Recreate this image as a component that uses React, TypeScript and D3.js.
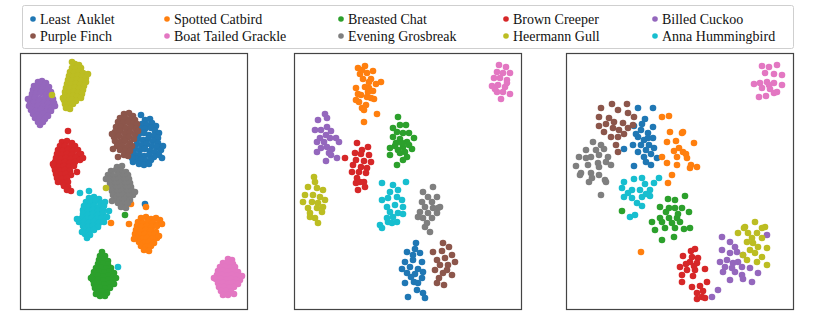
import React from 'react';
import * as d3 from 'd3';

const W = 814;
const H = 319;

// bird classes, legend order (row-major, 5 columns)
const species = [
  'Least  Auklet', 'Spotted Catbird', 'Breasted Chat', 'Brown Creeper', 'Billed Cuckoo',
  'Purple Finch', 'Boat Tailed Grackle', 'Evening Grosbreak', 'Heermann Gull', 'Anna Hummingbird',
];
const colors = [
  '#1f77b4', '#ff7f0e', '#2ca02c', '#d62728', '#9467bd',
  '#8c564b', '#e377c2', '#7f7f7f', '#bcbd22', '#17becf',
];

type Pt = [number, number];

// ---- panel 1 embedding
const leftAuklet: Pt[] = [[121,61],[125,66],[130,65],[122,70],[127,71],[132,69],[136,72],[120,75],[125,75],[131,74],[135,77],[139,79],[119,80],[124,79],[129,81],[134,82],[138,84],[118,85],[123,86],[128,85],[133,87],[138,89],[117,90],[122,91],[127,90],[132,92],[137,93],[141,96],[115,95],[120,96],[125,95],[130,97],[135,98],[139,101],[114,100],[119,101],[124,102],[129,101],[134,103],[116,105],[121,106],[126,107],[131,106],[119,110],[124,111],[129,110],[113,108],[125,150],[143,92],[142,104],[112,104]];
const leftCatbird: Pt[] = [[121,164],[126,163],[131,165],[136,164],[140,166],[118,168],[123,169],[128,168],[133,169],[138,170],[117,172],[122,173],[127,172],[132,173],[137,172],[116,176],[121,177],[126,176],[131,177],[136,178],[115,180],[120,181],[125,180],[130,181],[135,180],[117,184],[122,185],[127,184],[132,185],[137,184],[119,188],[124,189],[129,188],[134,189],[121,192],[126,193],[131,192],[124,196],[129,197],[91,169],[111,150],[126,153],[109,170],[114,185],[142,170],[139,182]];
const leftChat: Pt[] = [[82,198],[80,202],[85,202],[79,206],[84,206],[88,207],[78,210],[83,210],[88,211],[76,214],[81,214],[86,215],[91,214],[74,218],[79,218],[84,219],[89,218],[94,219],[73,222],[78,222],[83,223],[88,222],[93,223],[73,226],[78,226],[83,227],[88,226],[93,227],[74,230],[79,230],[84,231],[89,230],[94,230],[75,234],[80,234],[85,235],[90,234],[77,238],[82,238],[87,239],[80,242],[85,242],[105,161],[71,224],[96,224],[76,240]];
const leftCreeper: Pt[] = [[48,77],[42,88],[47,87],[52,89],[40,92],[45,92],[50,93],[55,92],[38,96],[43,97],[48,96],[53,97],[58,96],[37,100],[42,101],[47,100],[52,101],[57,102],[61,100],[36,104],[41,105],[46,104],[51,105],[56,104],[60,106],[35,108],[40,109],[45,108],[50,109],[55,108],[34,112],[39,113],[44,112],[49,113],[54,112],[35,116],[40,117],[45,116],[50,117],[36,120],[41,121],[46,120],[51,121],[37,124],[42,125],[47,124],[38,128],[43,129],[48,128],[44,132],[48,133],[47,136],[51,137],[33,110],[63,104],[57,118]];
const leftCuckoo: Pt[] = [[18,28],[22,27],[26,29],[14,32],[19,31],[24,32],[29,33],[13,36],[17,35],[22,36],[27,37],[31,38],[12,40],[16,40],[21,39],[26,41],[30,42],[11,44],[15,44],[20,45],[25,44],[29,46],[33,45],[10,48],[14,49],[19,48],[24,49],[28,50],[34,49],[9,52],[13,53],[18,52],[23,53],[28,54],[32,53],[11,56],[16,57],[21,56],[26,58],[31,57],[13,60],[18,61],[23,60],[28,62],[15,64],[20,64],[25,65],[18,68],[23,68],[8,45],[35,52],[20,71]];
const leftFinch: Pt[] = [[104,60],[109,59],[113,62],[100,64],[105,64],[110,65],[115,66],[98,68],[103,69],[108,68],[113,70],[117,70],[96,73],[101,73],[106,74],[111,73],[116,75],[95,78],[100,77],[105,79],[110,78],[115,80],[94,83],[99,82],[104,84],[109,83],[114,85],[95,87],[100,88],[105,87],[110,89],[97,92],[102,92],[107,93],[112,92],[100,96],[105,97],[110,97],[104,101],[108,102],[93,95],[98,103],[105,153],[92,80],[118,77]];
const leftGrackle: Pt[] = [[208,205],[212,206],[203,209],[208,209],[213,210],[200,213],[205,213],[210,214],[215,213],[198,217],[203,217],[208,218],[213,217],[218,218],[197,221],[202,221],[207,222],[212,221],[217,222],[196,225],[201,225],[206,226],[211,225],[216,226],[220,226],[198,229],[203,229],[208,230],[213,229],[218,230],[199,233],[204,233],[209,234],[214,233],[201,237],[206,237],[211,238],[203,241],[208,241],[194,224],[222,222],[214,240]];
const leftGrosbreak: Pt[] = [[97,113],[102,112],[91,117],[96,116],[101,117],[106,118],[88,121],[93,122],[98,121],[103,122],[108,121],[89,125],[94,126],[99,125],[104,126],[109,125],[90,129],[95,130],[100,129],[105,130],[110,129],[91,133],[96,134],[101,133],[106,134],[111,133],[92,137],[97,138],[102,137],[107,138],[112,137],[93,141],[98,142],[103,141],[108,142],[113,141],[95,145],[100,146],[105,145],[110,146],[98,149],[103,150],[108,149],[101,153],[106,154],[86,125],[115,138],[92,147]];
const leftGull: Pt[] = [[55,10],[59,11],[52,14],[56,15],[61,14],[50,18],[54,19],[59,18],[63,19],[49,22],[53,23],[58,22],[62,23],[66,24],[48,26],[52,27],[57,26],[61,27],[66,28],[47,30],[51,31],[56,30],[60,31],[64,32],[46,34],[50,35],[55,34],[59,35],[63,36],[45,38],[49,39],[54,38],[58,39],[62,40],[45,42],[49,43],[53,42],[57,43],[61,44],[44,46],[48,47],[52,46],[56,47],[45,50],[49,51],[53,50],[46,54],[50,55],[32,41],[86,134],[68,20],[43,44],[52,8]];
const leftHummingbird: Pt[] = [[60,139],[69,137],[69,144],[74,143],[79,145],[66,148],[71,148],[76,147],[81,149],[85,148],[64,152],[69,153],[74,152],[79,153],[84,152],[63,156],[68,157],[73,156],[78,157],[83,156],[63,160],[68,161],[73,160],[78,161],[83,160],[62,164],[67,165],[72,164],[77,165],[82,164],[87,163],[59,168],[64,168],[69,169],[74,168],[79,169],[84,168],[63,172],[68,173],[73,172],[78,173],[64,176],[69,177],[74,176],[65,180],[70,181],[67,184],[98,213],[57,165],[89,157],[62,178]];

// ---- panel 2 embedding
const midAuklet: Pt[] = [[122,189],[121,195],[113,198],[119,201],[126,199],[111,208],[119,206],[128,208],[108,215],[116,213],[124,215],[113,219],[121,220],[129,218],[111,229],[120,228],[128,224],[123,236],[129,239],[114,243],[131,244],[117,223],[124,229]];
const midCatbird: Pt[] = [[64,14],[71,12],[79,17],[66,20],[73,19],[69,25],[77,25],[87,28],[82,30],[62,34],[71,33],[75,34],[79,37],[67,41],[73,43],[65,48],[77,44],[68,54],[72,51],[70,56],[83,60],[70,68],[68,16],[75,28],[64,40],[80,45],[62,46],[74,38]];
const midChat: Pt[] = [[104,63],[106,71],[112,71],[99,74],[103,78],[109,79],[115,79],[120,84],[99,83],[106,85],[113,88],[102,89],[109,93],[118,95],[96,94],[104,96],[111,98],[96,101],[106,99],[113,103],[109,106],[103,111],[108,89],[101,92],[115,91]];
const midCreeper: Pt[] = [[63,89],[74,93],[68,96],[61,99],[67,100],[75,101],[51,104],[62,106],[70,107],[77,108],[59,111],[67,113],[73,114],[58,118],[65,118],[72,119],[63,124],[70,128],[62,129],[71,133],[64,136],[66,128]];
const midCuckoo: Pt[] = [[31,60],[33,64],[24,66],[33,73],[21,76],[27,76],[37,77],[32,81],[26,84],[36,84],[42,84],[23,88],[30,88],[45,88],[33,93],[27,94],[38,95],[23,98],[35,99],[43,104],[32,107],[37,101]];
const midFinch: Pt[] = [[149,189],[155,193],[139,198],[148,197],[158,201],[143,206],[151,204],[161,208],[146,211],[154,211],[141,216],[149,219],[158,221],[143,229],[150,231],[145,224],[153,216]];
const midGrackle: Pt[] = [[205,11],[212,13],[203,18],[209,19],[216,19],[200,24],[206,24],[213,26],[198,32],[204,31],[211,33],[203,38],[209,38],[216,40],[207,45],[201,35],[213,29]];
const midGrosbreak: Pt[] = [[129,138],[139,133],[134,143],[143,143],[128,148],[138,148],[146,153],[131,153],[139,154],[126,158],[134,159],[143,159],[129,164],[138,164],[131,173],[136,178],[133,169],[124,163],[144,154]];
const midGull: Pt[] = [[20,123],[21,128],[14,133],[23,134],[29,136],[11,141],[19,141],[26,143],[31,146],[9,148],[18,148],[24,149],[29,153],[14,154],[23,154],[16,159],[21,164],[24,169],[16,163],[28,158]];
const midHummingbird: Pt[] = [[88,129],[99,131],[112,128],[96,138],[104,136],[88,146],[94,144],[103,143],[108,146],[93,153],[101,151],[109,153],[96,158],[104,159],[99,163],[93,164],[109,160],[94,168],[103,168],[86,171],[88,174],[98,169]];

// ---- panel 3 embedding
const rightAuklet: Pt[] = [[72,54],[87,54],[79,65],[68,72],[87,73],[75,76],[82,79],[72,83],[78,86],[87,84],[67,91],[75,91],[83,91],[80,96],[88,94],[58,95],[78,103],[91,104],[85,111],[68,112],[72,98],[82,84],[76,70],[70,80],[85,100],[80,108]];
const rightCatbird: Pt[] = [[96,63],[103,62],[104,78],[116,79],[101,88],[113,94],[128,89],[96,103],[111,103],[121,104],[101,109],[111,111],[124,114],[131,113],[108,97],[117,98],[110,87],[106,121],[102,129],[117,78],[120,100],[125,111],[75,198]];
const rightChat: Pt[] = [[102,145],[109,146],[119,142],[94,153],[103,154],[109,154],[116,154],[123,158],[94,164],[103,164],[111,164],[86,168],[96,168],[106,169],[114,168],[124,174],[89,176],[99,174],[109,174],[118,175],[96,186],[108,183],[56,157],[100,158],[112,160]];
const rightCreeper: Pt[] = [[129,195],[125,197],[117,202],[126,203],[132,204],[114,213],[124,208],[131,209],[139,215],[121,216],[129,216],[116,221],[127,222],[116,228],[141,228],[134,232],[126,233],[137,237],[131,239],[136,243],[131,245],[139,244],[120,210],[128,212]];
const rightCuckoo: Pt[] = [[156,183],[164,188],[169,193],[156,196],[164,199],[171,198],[177,201],[154,208],[161,206],[167,209],[172,208],[159,213],[166,214],[176,213],[157,218],[169,218],[184,214],[176,221],[192,219],[164,226],[177,225],[186,228],[201,181],[152,236],[146,243]];
const rightFinch: Pt[] = [[35,54],[46,50],[61,50],[52,56],[33,63],[43,64],[62,59],[68,63],[40,70],[48,68],[57,69],[38,78],[47,74],[53,76],[62,74],[67,71],[45,83],[52,83],[58,80],[50,91],[52,98],[33,72]];
const rightGrackle: Pt[] = [[196,12],[203,13],[211,11],[199,19],[208,20],[216,21],[188,30],[194,29],[201,28],[208,29],[216,31],[196,34],[204,35],[211,38],[193,43],[200,42],[208,39],[203,31]];
const rightGrosbreak: Pt[] = [[27,88],[35,91],[20,96],[30,96],[38,95],[13,103],[25,103],[33,101],[42,103],[10,112],[22,111],[32,109],[40,108],[45,111],[15,119],[25,119],[33,121],[23,128],[40,128],[35,141],[33,113],[20,104],[14,121],[26,124],[39,126]];
const rightGull: Pt[] = [[189,168],[199,173],[179,173],[172,179],[182,179],[191,179],[186,184],[196,184],[181,188],[187,189],[201,194],[192,193],[184,196],[177,201],[189,199],[196,203],[181,206],[191,208],[201,211],[178,174],[196,174]];
const rightHummingbird: Pt[] = [[58,128],[68,125],[76,124],[79,130],[88,129],[93,124],[56,134],[66,136],[74,136],[84,136],[58,143],[66,144],[76,143],[84,142],[71,149],[64,163],[69,161],[76,152],[62,139],[80,140]];

const panels: Pt[][][] = [
  [leftAuklet, leftCatbird, leftChat, leftCreeper, leftCuckoo, leftFinch, leftGrackle, leftGrosbreak, leftGull, leftHummingbird],
  [midAuklet, midCatbird, midChat, midCreeper, midCuckoo, midFinch, midGrackle, midGrosbreak, midGull, midHummingbird],
  [rightAuklet, rightCatbird, rightChat, rightCreeper, rightCuckoo, rightFinch, rightGrackle, rightGrosbreak, rightGull, rightHummingbird],
];

const panelLeft = [20, 294, 566];
const panelTop = 54;
const panelW = 228;
const panelH = 256;

const legendX = [33, 167, 341, 506, 655];
const legendY = [19, 36];
const serif = "'Liberation Serif', 'Times New Roman', Times, serif";

function Panel({ data, x0 }: { data: Pt[][]; x0: number }) {
  const x = d3.scaleLinear().domain([0, panelW]).range([x0, x0 + panelW]);
  const y = d3.scaleLinear().domain([0, panelH]).range([panelTop, panelTop + panelH]);
  return (
    <g>
      {data.map((pts, k) => (
        <g key={k} fill={colors[k]}>
          {pts.map((p, i) => (
            <circle key={i} cx={x(p[0])} cy={y(p[1])} r={3.3} />
          ))}
        </g>
      ))}
      <rect x={x0 + 0.5} y={panelTop - 0.5} width={panelW - 1} height={panelH} fill="none" stroke="#444" strokeWidth={1.2} />
    </g>
  );
}

export default function App() {
  return (
    <svg width={W} height={H} style={{ position: 'absolute', left: 0, top: 0 }}>
      <rect width={W} height={H} fill="#fff" />
      <rect x={22.5} y={5.5} width={771} height={43} rx={2} fill="#fff" stroke="#cfcfcf" />
      {species.map((s, i) => {
        const cx = legendX[i % 5];
        const cy = legendY[Math.floor(i / 5)];
        return (
          <g key={s}>
            <circle cx={cx} cy={cy} r={2.8} fill={colors[i]} />
            <text x={cx + 7} y={cy + 4.8} fontSize={14} fill="#111" style={{ whiteSpace: 'pre', fontFamily: serif }}>
              {s}
            </text>
          </g>
        );
      })}
      {panels.map((d, i) => (
        <Panel key={i} data={d} x0={panelLeft[i]} />
      ))}
    </svg>
  );
}
